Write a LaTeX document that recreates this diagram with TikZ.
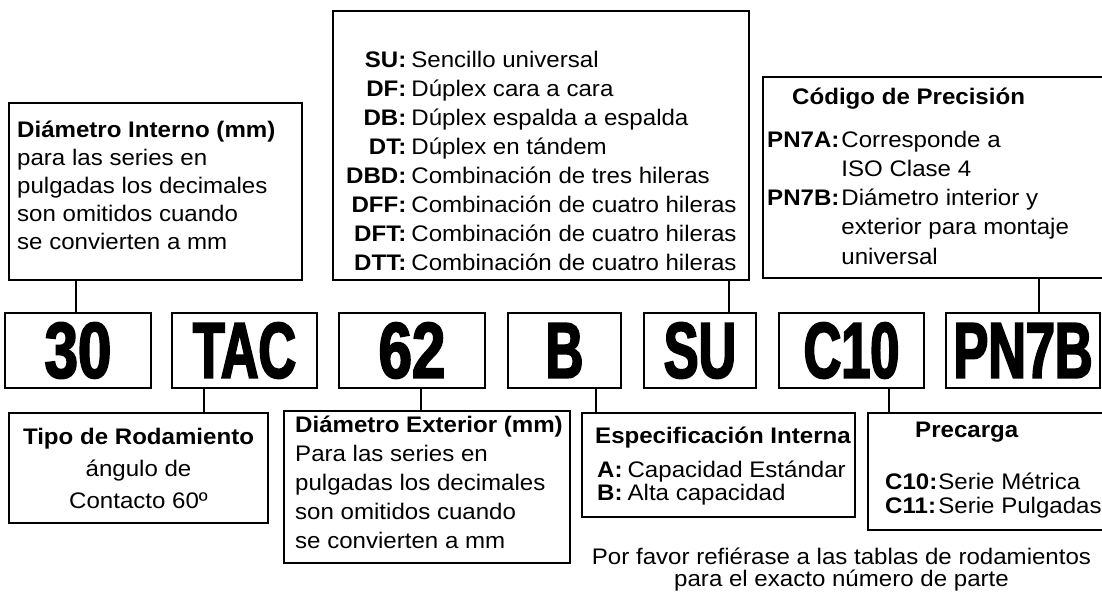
\documentclass[tikz,border=0pt]{standalone}
\usepackage{fontspec}
\setmainfont{Liberation Sans}[FakeStretch=1.07]
\newfontfamily\codefont{Liberation Sans Bold}[FakeStretch=0.66,FakeBold=2.4]
\newfontfamily\digitfont{Liberation Sans Bold}[FakeStretch=0.76,FakeBold=2.4]
\tikzset{
	codebox/.style={draw, line width=2.8pt, minimum height=75pt, inner sep=0pt, font=\codefont\fontsize{79}{79}\selectfont},
	infobox/.style={draw, line width=1.3pt, inner sep=0pt},
	infotext/.style={inner sep=0pt, anchor=north west, font=\fontsize{22.5}{29}\selectfont},
	headtext/.style={inner sep=0pt, anchor=base west, font=\bfseries\fontsize{22.5}{29}\selectfont},
	link/.style={line width=2pt}
}

\begin{document}
\begin{tikzpicture}[x=1pt, y=-1pt]
  \useasboundingbox (0,0) rectangle (1102,592);

  \node[codebox, minimum width=146pt, font=\digitfont\fontsize{79}{79}\selectfont] (c30) at (78,350.5) {30};
  \node[codebox, minimum width=145pt] (ctac) at (244.5,350.5) {TAC};
  \node[codebox, minimum width=146pt, font=\digitfont\fontsize{79}{79}\selectfont] (c62) at (412,350.5) {62};
  \node[codebox, minimum width=113pt] (cb) at (564.5,350.5) {B};
  \node[codebox, minimum width=112pt] (csu) at (700,350.5) {SU};
  \node[codebox, minimum width=145pt] (cc10) at (851.5,350.5) {C10};
  \node[codebox, minimum width=154pt] (cpn) at (1023,350.5) {PN7B};

  \node[infobox, minimum width=293pt, minimum height=177pt] (int) at (155.5,191.5) {};
  \node[infobox, minimum width=416pt, minimum height=269pt] (ser) at (541,145.5) {};
  \node[infobox, minimum width=357pt, minimum height=201pt] (prec) at (941.5,177.5) {};
  \node[infobox, minimum width=259pt, minimum height=110pt] (tipo) at (138.5,468) {};
  \node[infobox, minimum width=286pt, minimum height=152pt] (ext) at (427,487) {};
  \node[infobox, minimum width=273pt, minimum height=104pt] (esp) at (718.5,465) {};
  \node[infobox, minimum width=252pt, minimum height=117pt] (pre) at (994,471.5) {};

  \node[infotext, font=\fontsize{22.5}{28}\selectfont] (inttext) at (17,117.4) {\begin{tabular}{@{}l@{}}
    \textbf{Diámetro Interno (mm)}\\ para las series en\\ pulgadas los decimales\\ son omitidos cuando\\ se convierten a mm\end{tabular}};
  \node[infotext] (sertext) at (346,46.7) {\begin{tabular}{@{}r@{\hspace{5pt}}l@{}}
    \textbf{SU:} & Sencillo universal\\ \textbf{DF:} & Dúplex cara a cara\\
    \textbf{DB:} & Dúplex espalda a espalda\\ \textbf{DT:} & Dúplex en tándem\\
    \textbf{DBD:} & Combinación de tres hileras\\ \textbf{DFF:} & Combinación de cuatro hileras\\
    \textbf{DFT:} & Combinación de cuatro hileras\\ \textbf{DTT:} & Combinación de cuatro hileras\end{tabular}};
  \node[headtext] (prectitle) at (792,104) {Código de Precisión};
  \node[infotext, font=\fontsize{22.5}{29.25}\selectfont] (prectext) at (767,126.5) {\begin{tabular}{@{}l@{\hspace{2pt}}l@{}}
    \textbf{PN7A:} & Corresponde a\\ & ISO Clase 4\\ \textbf{PN7B:} & Diámetro interior y\\
    & exterior para montaje\\ & universal\end{tabular}};
  \node[infotext, anchor=north] (tipotext) at (138.5,423.7) {\begin{tabular}{@{}c@{}}
    \textbf{Tipo de Rodamiento}\\[3pt] ángulo de\\[3pt] Contacto 60º\end{tabular}};
  \node[infotext] (exttext) at (295,411.7) {\begin{tabular}{@{}l@{}}
    \textbf{Diámetro Exterior (mm)}\\ Para las series en\\ pulgadas los decimales\\ son omitidos cuando\\ se convierten a mm\end{tabular}};
  \node[headtext] (esptitle) at (595,443) {Especificación Interna};
  \node[infotext, font=\fontsize{22.5}{21.7}\selectfont] (esptext) at (597,460.8) {\begin{tabular}{@{}l@{\hspace{5pt}}l@{}}
    \textbf{A:} & Capacidad Estándar\\ \textbf{B:} & Alta capacidad\end{tabular}};
  \node[headtext] (pretitle) at (915,437) {Precarga};
  \node[infotext, font=\fontsize{22.5}{24}\selectfont] (pretext) at (885,472.5) {\begin{tabular}{@{}l@{\hspace{1pt}}l@{}}
    \textbf{C10:} & Serie Métrica\\ \textbf{C11:} & Serie Pulgadas\end{tabular}};
  \node[infotext, anchor=north, font=\fontsize{22.5}{21}\selectfont] (note) at (841.5,547.3) {\begin{tabular}{@{}c@{}}
    Por favor refiérase a las tablas de rodamientos\\ para el exacto número de parte\end{tabular}};

  \coordinate (l30) at ([xshift=-2pt]c30.north);
  \coordinate (ltac) at ([xshift=-40.5pt]ctac.south);
  \coordinate (l62) at ([xshift=9pt]c62.south);
  \coordinate (lb) at ([xshift=31.5pt]cb.south);
  \coordinate (lsu) at ([xshift=29pt]csu.north);
  \coordinate (lc10) at ([xshift=37.5pt]cc10.south);
  \coordinate (lpn) at ([xshift=16pt]cpn.north);
  \draw[link] (l30) -- (l30 |- int.south);
  \draw[link] (ltac) -- (ltac |- tipo.north);
  \draw[link] (l62) -- (l62 |- ext.north);
  \draw[link] (lb) -- (lb |- esp.north);
  \draw[link] (lsu) -- (lsu |- ser.south);
  \draw[link] (lc10) -- (lc10 |- pre.north);
  \draw[link] (lpn) -- (lpn |- prec.south);

\end{tikzpicture}
\end{document}
